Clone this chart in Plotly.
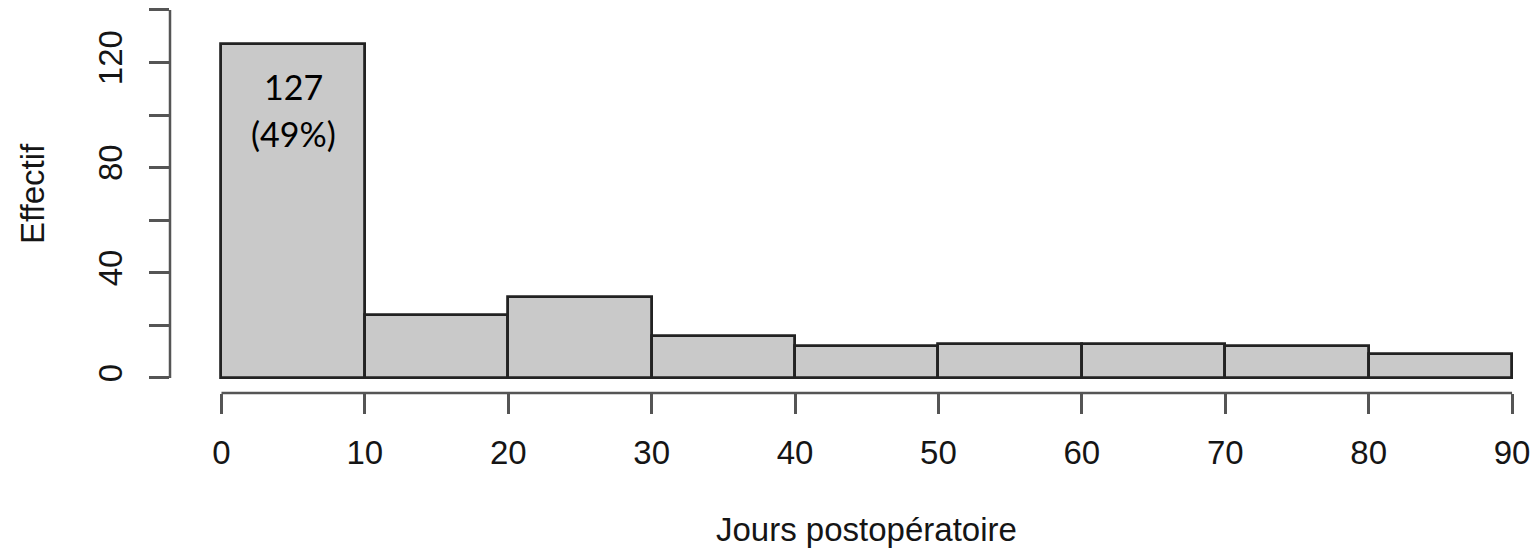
import plotly.graph_objects as go

# ---- data ----
bin_edges = [0, 10, 20, 30, 40, 50, 60, 70, 80, 90]
counts = [127, 24, 31, 16, 12, 13, 13, 12, 9]
x_tick_vals = [0, 10, 20, 30, 40, 50, 60, 70, 80, 90]
y_tick_vals = [0, 20, 40, 60, 80, 100, 120, 140]
y_tick_text = ["0", "", "40", "", "80", "", "120", ""]
x_title = "Jours postopératoire"
y_title = "Effectif"

centers = [(a + b) / 2 for a, b in zip(bin_edges[:-1], bin_edges[1:])]
widths = [b - a for a, b in zip(bin_edges[:-1], bin_edges[1:])]
total = sum(counts)
first_pct = round(100 * counts[0] / total)

W, H = 1537, 551
AX_COL = "#555555"
TXT_COL = "#151515"
FONT = "Liberation Sans, Arial, Helvetica, sans-serif"
FS = 33

fig = go.Figure(
    go.Bar(
        x=centers,
        y=counts,
        width=widths,
        marker=dict(color="#C9C9C9", line=dict(color="#222222", width=2.8)),
        hoverinfo="x+y",
    )
)

fig.update_layout(
    width=W,
    height=H,
    margin=dict(l=170, r=0, t=0, b=158),
    plot_bgcolor="white",
    paper_bgcolor="white",
    showlegend=False,
    bargap=0,
    font=dict(family=FONT, size=FS, color=TXT_COL),
)

fig.update_xaxes(
    range=[-3.59, 91.74],
    tickmode="array",
    tickvals=x_tick_vals,
    ticktext=[str(v) for v in x_tick_vals],
    ticks="outside",
    ticklen=20,
    tickwidth=2.5,
    tickcolor=AX_COL,
    showgrid=False,
    zeroline=False,
    showline=False,
    automargin=False,
    tickfont=dict(family=FONT, size=FS, color=TXT_COL),
    ticklabelstandoff=10,
)

fig.update_yaxes(
    range=[-5.71, 143.8],
    tickmode="array",
    tickvals=y_tick_vals,
    ticktext=y_tick_text,
    tickangle=-90,
    ticks="outside",
    ticklen=20,
    tickwidth=2.5,
    tickcolor=AX_COL,
    showgrid=False,
    zeroline=False,
    showline=False,
    automargin=False,
    tickfont=dict(family=FONT, size=FS, color=TXT_COL),
    ticklabelstandoff=14,
)

# axis lines spanning only first..last tick (R style)
fig.add_shape(type="line", xref="x", yref="paper",
              x0=x_tick_vals[0], x1=x_tick_vals[-1], y0=0, y1=0,
              line=dict(color=AX_COL, width=2.5))
fig.add_shape(type="line", xref="paper", yref="y",
              x0=0, x1=0, y0=y_tick_vals[0], y1=y_tick_vals[-1],
              line=dict(color=AX_COL, width=2.5))

# label inside first bar
fig.add_annotation(x=centers[0], y=111, xref="x", yref="y", text=str(counts[0]),
                   showarrow=False, font=dict(family="Lato, Carlito, sans-serif", size=34, color="#000"))
fig.add_annotation(x=centers[0], y=93, xref="x", yref="y", text=f"({first_pct}%)",
                   showarrow=False, font=dict(family="Lato, Carlito, sans-serif", size=34, color="#000"))

# axis titles
fig.add_annotation(x=(x_tick_vals[0] + x_tick_vals[-1]) / 2, y=0, xref="x", yref="paper",
                   yanchor="middle", yshift=-136, text=x_title, showarrow=False,
                   font=dict(family=FONT, size=FS, color=TXT_COL))
fig.add_annotation(x=0, y=(y_tick_vals[0] + y_tick_vals[-1]) / 2, xref="paper", yref="y",
                   xanchor="center", xshift=-137, text=y_title, textangle=-90, showarrow=False,
                   font=dict(family=FONT, size=FS, color=TXT_COL))

fig.write_html("out.html")
